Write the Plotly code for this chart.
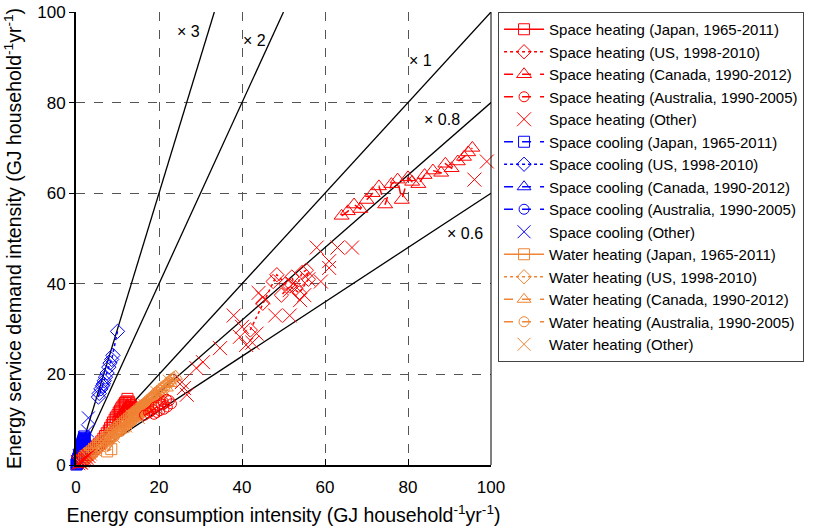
import plotly.graph_objects as go

RED = "#FF0000"
BLUE = "#0000FF"
ORANGE = "#EF8435"
FONT = "Liberation Sans, Arial, Helvetica, sans-serif"

# ---------------- data ----------------
# Space heating
sh_japan_x = [1.0,1.3,1.6,2.0,2.4,2.8,3.3,3.8,4.4,5.0,5.5,6.1,6.6,7.0,7.4,7.9,8.2,8.6,8.9,9.3,9.6,10.0,10.3,10.6,10.9,11.2,11.5,11.8,12.1,12.4,12.7,12.9,13.2,13.4,13.0,12.6,12.2,11.9,12.3,12.8,13.1,12.5,11.7,11.3,10.9,10.5,10.2]
sh_japan_y = [0.7,0.9,1.2,1.5,1.9,2.2,2.6,3.0,3.6,4.1,4.6,5.2,5.8,6.4,7.0,7.6,8.2,8.8,9.4,10.0,10.5,11.0,11.6,12.0,12.5,12.9,13.3,13.7,14.0,14.6,14.0,13.6,13.2,12.8,12.4,12.0,11.7,11.3,11.6,12.1,12.6,11.9,11.1,10.6,10.2,9.8,9.5]
sh_us_x = [42.0,45.0,47.5,48.4,50.5,52.0,53.0,54.5,55.5,56.0,53.8,51.5,49.5]
sh_us_y = [29.8,35.7,40.5,42.0,40.0,41.5,39.0,42.5,43.0,41.0,38.0,39.5,37.5]
sh_canada_x = [64.0,65.5,67.0,68.5,70.0,71.5,73.0,74.5,76.0,77.5,78.5,80.0,81.0,82.5,84.0,86.0,88.0,89.0,90.5,92.0,93.5,94.5,95.5]
sh_canada_y = [55.0,56.0,57.5,56.5,58.5,60.0,61.5,57.5,62.0,63.0,58.5,63.5,62.5,62.0,64.0,65.0,64.5,66.5,65.5,67.0,68.0,69.0,70.0]
sh_australia_x = [16.5,17.5,18.5,19.0,19.8,20.5,21.0,21.8,22.5,23.0,22.0,21.2,20.2,19.5,18.8,18.0]
sh_australia_y = [11.0,11.5,12.2,12.8,13.2,13.5,14.0,14.5,14.2,13.5,12.8,12.3,12.0,11.6,11.2,11.8]
sh_other_x = [0.5,1.0,1.5,2.0,2.5,1.2,3.0,25.5,26.0,26.7,29.0,30.6,34.7,38.0,39.5,40.0,41.0,42.5,43.5,44.0,45.0,48.0,51.5,51.5,54.0,55.0,56.0,58.0,59.0,61.0,61.0,63.0,66.5,96.0,99.0]
sh_other_y = [0.4,0.7,1.0,1.4,1.6,0.5,2.0,18.3,17.0,15.5,21.4,22.7,25.8,33.0,28.3,30.5,26.5,27.0,29.0,38.0,37.0,33.0,33.0,38.6,36.4,37.5,41.0,48.0,40.5,45.0,43.5,48.0,48.0,63.0,67.0]

# Space cooling
sc_japan_x = [0.1,0.2,0.3,0.3,0.4,0.5,0.5,0.6,0.7,0.8,0.8,0.9,1.0,1.0,1.1,1.2,1.2,1.3,1.4,1.5,1.5,1.6,1.7,1.8,1.8,1.9,2.0,2.0,1.9,1.7,1.6,1.4,1.3,1.5,1.6,1.8,1.9,2.1,1.7,1.5]
sc_japan_y = [0.1,0.2,0.4,0.6,0.8,1.0,1.3,1.5,1.8,2.0,2.3,2.6,2.8,3.1,3.3,3.5,3.8,4.0,4.2,4.4,4.7,4.9,5.1,5.3,5.5,5.7,6.0,6.3,5.8,5.0,4.5,3.9,3.6,4.0,4.3,4.8,5.2,5.6,4.6,4.1]
sc_us_x = [10.0,8.9,8.6,8.2,7.9,7.5,7.1,6.8,6.4,6.0,5.6,5.4,6.6]
sc_us_y = [29.5,24.2,23.3,22.5,21.6,20.3,19.4,18.6,17.5,16.8,15.8,15.0,17.9]
sc_canada_x = [0.8,0.9,1.0,1.1,1.2,1.3,1.4,1.5,1.6,1.7,1.8,1.9,2.0,2.1,2.2,2.3,2.4,2.2,2.0,1.8,1.6,1.4,1.2]
sc_canada_y = [1.5,1.8,2.0,2.3,2.6,2.9,3.1,3.4,3.6,3.9,4.1,4.4,4.6,4.9,5.1,5.3,5.5,5.0,4.5,4.0,3.6,3.2,2.8]
sc_australia_x = [0.6,0.8,1.0,1.2,1.4,1.6,1.8,2.0,2.2,2.4,2.0,1.6,1.2,0.9,1.5,1.9]
sc_australia_y = [0.8,1.1,1.4,1.7,2.0,2.3,2.6,2.9,3.2,3.5,3.0,2.5,2.0,1.5,2.2,2.7]
sc_other_x = [3.0,2.2,1.5,0.8,2.8,0.3]
sc_other_y = [10.4,6.0,3.5,2.0,7.5,0.8]

# Water heating
wh_japan_x = [2.0,2.5,3.0,3.4,3.8,4.3,4.8,5.3,5.8,6.3,6.8,7.3,7.8,8.3,8.8,9.3,9.8,10.3,10.8,11.3,11.8,12.3,12.8,13.2,13.6,14.0,14.4,14.8,15.2,15.6,15.9,16.2,16.5,16.8,17.0,17.2,17.4,17.0,16.6,16.2,15.8,15.4,15.0,14.6,14.2,7.5,8.5]
wh_japan_y = [1.6,2.0,2.4,2.7,3.0,3.4,3.8,4.2,4.6,5.0,5.4,5.8,6.2,6.6,7.0,7.4,7.8,8.2,8.6,9.0,9.4,9.8,10.2,10.5,10.8,11.1,11.4,11.7,12.0,12.3,12.5,12.7,12.9,13.1,13.2,13.3,13.4,13.0,12.7,12.4,12.1,11.8,11.5,11.2,10.9,3.0,3.5]
wh_us_x = [13.0,13.6,14.2,14.8,15.4,16.0,16.6,17.2,17.8,18.4,19.0,19.4,19.8]
wh_us_y = [10.0,10.6,11.1,11.6,12.1,12.6,13.0,13.5,14.0,14.4,14.9,15.2,15.6]
wh_canada_x = [15.5,16.0,16.5,17.0,17.5,18.0,18.5,19.0,19.5,20.0,20.5,21.0,21.5,22.0,22.5,23.0,23.5,24.0,22.8,21.8,20.8,19.8,18.8]
wh_canada_y = [12.8,13.3,13.8,14.2,14.6,15.0,15.5,15.9,16.3,16.7,17.1,17.4,17.8,18.2,18.6,19.0,19.3,19.6,18.0,17.0,16.0,15.2,14.5]
wh_australia_x = [8.0,8.5,9.0,9.5,10.0,10.5,11.0,11.5,12.0,12.5,13.0,13.5,14.0,12.2,10.8,9.2]
wh_australia_y = [5.6,6.0,6.4,6.8,7.2,7.5,7.9,8.3,8.6,9.0,9.4,9.7,10.1,8.2,7.4,6.2]
wh_other_x = [0.8,1.5,2.5,3.5,4.5,5.5,6.5,7.5,9.0,10.5,12.0,13.5,15.0,16.5,18.0,19.5,21.0,22.5]
wh_other_y = [0.6,1.0,1.8,2.4,3.4,4.2,4.5,6.0,6.3,8.4,8.6,10.8,10.5,13.2,12.6,16.0,15.0,18.5]

# Ratio lines (service demand / consumption)
ratios = [3, 2, 1, 0.8, 0.6]
ratio_labels = ["× 3", "× 2", "× 1", "× 0.8", "× 0.6"]
ratio_label_x = [27.0, 43.1, 82.9, 88.2, 93.7]
ratio_label_y = [95.6, 93.8, 89.4, 76.2, 51.2]

x_ticks = [0, 20, 40, 60, 80, 100]
y_ticks = [0, 20, 40, 60, 80, 100]

# ---------------- figure ----------------
fig = go.Figure()

# ratio lines
for k in ratios:
    xe = min(100.0, 100.0 / k)
    fig.add_trace(go.Scatter(x=[0, xe], y=[0, k * xe], mode="lines",
                             line=dict(color="black", width=1.3),
                             showlegend=False, hoverinfo="skip"))

# drawing order (legend order is set by legendrank)
series = [
    # (name, x, y, color, symbol, dash, size, legend rank)
    ("Space cooling (Japan, 1965-2011)", sc_japan_x, sc_japan_y, BLUE, "square-open", "dash", 11, 6),
    ("Space cooling (US, 1998-2010)", sc_us_x, sc_us_y, BLUE, "diamond-open", "dot", 11, 7),
    ("Space cooling (Canada, 1990-2012)", sc_canada_x, sc_canada_y, BLUE, "triangle-up-open", "dash", 12, 8),
    ("Space cooling (Australia, 1990-2005)", sc_australia_x, sc_australia_y, BLUE, "circle-open", "dash", 10, 9),
    ("Space cooling (Other)", sc_other_x, sc_other_y, BLUE, "x-thin-open", None, 13, 10),
    ("Space heating (Japan, 1965-2011)", sh_japan_x, sh_japan_y, RED, "square-open", "solid", 11, 1),
    ("Water heating (Japan, 1965-2011)", wh_japan_x, wh_japan_y, ORANGE, "square-open", "solid", 11, 11),
    ("Water heating (US, 1998-2010)", wh_us_x, wh_us_y, ORANGE, "diamond-open", "dot", 11, 12),
    ("Water heating (Canada, 1990-2012)", wh_canada_x, wh_canada_y, ORANGE, "triangle-up-open", "dash", 12, 13),
    ("Water heating (Australia, 1990-2005)", wh_australia_x, wh_australia_y, ORANGE, "circle-open", "dash", 10, 14),
    ("Water heating (Other)", wh_other_x, wh_other_y, ORANGE, "x-thin-open", None, 13, 15),
    ("Space heating (US, 1998-2010)", sh_us_x, sh_us_y, RED, "diamond-open", "dot", 11, 2),
    ("Space heating (Canada, 1990-2012)", sh_canada_x, sh_canada_y, RED, "triangle-up-open", "dash", 13, 3),
    ("Space heating (Australia, 1990-2005)", sh_australia_x, sh_australia_y, RED, "circle-open", "dash", 10, 4),
    ("Space heating (Other)", sh_other_x, sh_other_y, RED, "x-thin-open", None, 14, 5),
]

for name, xs, ys, col, sym, dash, size, rank in series:
    if dash is None:
        mode = "markers"
        line = None
    else:
        mode = "lines+markers"
        line = dict(color=col, width=1.5, dash=dash)
    fig.add_trace(go.Scatter(
        x=xs, y=ys, name=name, mode=mode, line=line,
        marker=dict(symbol=sym, size=size, color=col, line=dict(color=col, width=1)),
        cliponaxis=False, legendrank=rank))

for lab, lx, ly in zip(ratio_labels, ratio_label_x, ratio_label_y):
    fig.add_annotation(x=lx, y=ly, text=lab, showarrow=False,
                       font=dict(family=FONT, size=16, color="black"))

# thin right frame
fig.add_shape(type="line", xref="paper", yref="paper", x0=1, x1=1, y0=0, y1=1,
              line=dict(color="black", width=1))

fig.update_layout(
    width=831, height=526,
    margin=dict(l=76, r=340, t=12, b=61, autoexpand=False),
    paper_bgcolor="white", plot_bgcolor="white",
    font=dict(family=FONT, size=15, color="black"),
    showlegend=True,
    legend=dict(x=1.017, y=1.0, xanchor="left", yanchor="top",
                bordercolor="#444", borderwidth=1, bgcolor="white",
                font=dict(family=FONT, size=15), tracegroupgap=0,
                itemwidth=40),
    xaxis=dict(range=[0, 100], tickvals=x_ticks, ticks="inside", ticklen=6,
               tickcolor="black", showline=True, linecolor="black", linewidth=2,
               showgrid=True, gridcolor="#555", griddash="dash", gridwidth=1,
               zeroline=False, tickfont=dict(size=17), ticklabelstandoff=6,
               automargin=False,
               title=dict(text="Energy consumption intensity (GJ household<sup>-1</sup>yr<sup>-1</sup>)",
                          font=dict(size=19.5), standoff=14)),
    yaxis=dict(range=[0, 100], tickvals=y_ticks, ticks="outside", ticklen=5,
               tickcolor="black", showline=True, linecolor="black", linewidth=2,
               showgrid=True, gridcolor="#555", griddash="dash", gridwidth=1,
               zeroline=False, tickfont=dict(size=17), automargin=False,
               title=dict(text="Energy service demand intensity (GJ household<sup>-1</sup>yr<sup>-1</sup>)",
                          font=dict(size=19.5), standoff=10)),
)

fig.write_html("out.html")
